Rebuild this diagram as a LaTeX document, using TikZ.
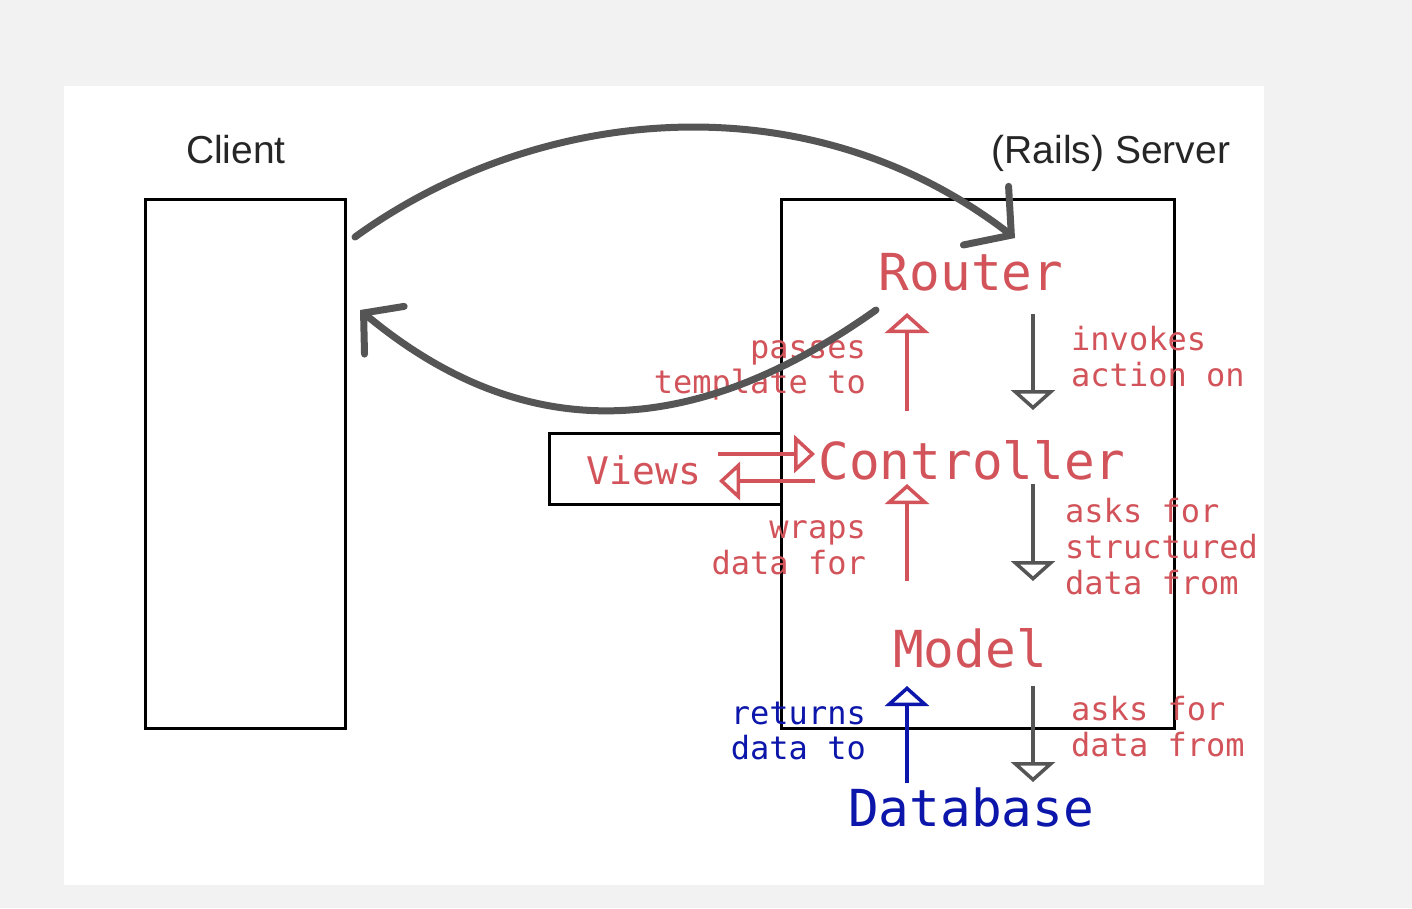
\documentclass[tikz,border=0pt]{standalone}
\usepackage{fontspec}
\setmainfont{Liberation Sans}
\newfontfamily\monof{DejaVu Sans Mono}
\usetikzlibrary{arrows.meta}
\definecolor{rred}{RGB}{210,84,90}
\definecolor{bblue}{RGB}{12,22,170}
\definecolor{ggrey}{RGB}{85,85,85}
\definecolor{bgg}{RGB}{242,242,242}
\tikzset{
  box/.style={draw=black,line width=3pt},
  bigword/.style={font=\monof\fontsize{51}{56}\selectfont,anchor=base,inner sep=0pt},
  lbl/.style={font=\monof\fontsize{32}{36}\selectfont,inner sep=0pt},
  lblr/.style={lbl,anchor=base east},
  lbll/.style={lbl,anchor=base west},
  head/.style={font=\fontsize{39}{44}\selectfont,anchor=base,inner sep=0pt,text=black!85},
  uparr/.style={line width=3.5pt,-{Triangle[open,length=20pt,width=44pt,line width=3.5pt]}},
  dnarr/.style={line width=3.5pt,draw=ggrey,-{Triangle[open,length=20pt,width=44pt,line width=3.5pt]}},
  sidearr/.style={line width=3.5pt,draw=rred,-{Triangle[open,length=21pt,width=38pt,line width=3.5pt]}},
  bigcurve/.style={line width=7pt,draw=ggrey,line cap=round},
}
\begin{document}
\begin{tikzpicture}[x=1pt,y=-1pt]
\fill[bgg] (0,0) rectangle (1412,908);
\useasboundingbox (0,0) rectangle (1412,908);
\fill[white] (64,86) rectangle (1264,885);

% boxes
\draw[box] (145,199) rectangle (345,728);
\draw[box] (781,199) rectangle (1174,728);
\draw[box] (781,433) -- (549,433) -- (549,504) -- (781,504);

% headings
\node[head] (client) at (236,163) {Client};
\node[head] (server) at (1111,163) {(Rails) Server};

% main words
\node[bigword,text=rred] (router) at (971,290) {Router};
\node[bigword,text=rred] (controller) at (972,479) {Controller};
\node[bigword,text=rred] (model) at (970,667) {Model};
\node[bigword,text=bblue] (database) at (971,826) {Database};
\node[font=\monof\fontsize{38}{42}\selectfont,anchor=base,inner sep=0pt,text=rred] (views) at (644,484) {Views};

% labels
\node[lblr,text=rred] (l1a) at (866,358) {passes};
\node[lblr,text=rred] (l1b) at (866,393) {template to};
\node[lblr,text=rred] (l2a) at (866,538) {wraps};
\node[lblr,text=rred] (l2b) at (866,574) {data for};
\node[lblr,text=bblue] (l3a) at (866,724) {returns};
\node[lblr,text=bblue] (l3b) at (866,759) {data to};
\node[lbll,text=rred] (r1a) at (1071,350) {invokes};
\node[lbll,text=rred] (r1b) at (1071,386) {action on};
\node[lbll,text=rred] (r2a) at (1065,522) {asks for};
\node[lbll,text=rred] (r2b) at (1065,558) {structured};
\node[lbll,text=rred] (r2c) at (1065,594) {data from};
\node[lbll,text=rred] (r3a) at (1071,720) {asks for};
\node[lbll,text=rred] (r3b) at (1071,756) {data from};

% arrow end points
\coordinate (u1s) at (907,411); \coordinate (u1e) at (907,313);
\coordinate (u2s) at (907,581); \coordinate (u2e) at (907,484);
\coordinate (u3s) at (907,783); \coordinate (u3e) at (907,686);
\coordinate (d1s) at (1033,314); \coordinate (d1e) at (1033,410);
\coordinate (d2s) at (1033,484); \coordinate (d2e) at (1033,581);
\coordinate (d3s) at (1033,686); \coordinate (d3e) at (1033,782);
\coordinate (v1s) at (718,454); \coordinate (v1e) at (815,454);
\coordinate (v2s) at (815,481); \coordinate (v2e) at (719,481);

\draw[uparr,draw=rred] (u1s) -- (u1e);
\draw[uparr,draw=rred] (u2s) -- (u2e);
\draw[uparr,draw=bblue] (u3s) -- (u3e);
\draw[dnarr] (d1s) -- (d1e);
\draw[dnarr] (d2s) -- (d2e);
\draw[dnarr] (d3s) -- (d3e);
\draw[sidearr] (v1s) -- (v1e);
\draw[sidearr] (v2s) -- (v2e);

% big curves
\coordinate (c1s) at (355,237); \coordinate (c1e) at (1015,238);
\coordinate (c2s) at (876,310); \coordinate (c2e) at (360,310);
\draw[bigcurve,-{Straight Barb[length=32pt,width=74pt,line width=7pt,line cap=round]}]
  (c1s) .. controls (536,106) and (806,77) .. (c1e);
\draw[bigcurve,-{Straight Barb[length=27pt,width=62pt,line width=7pt,line cap=round]}]
  (c2s) .. controls (710,428) and (538,458) .. (c2e);
\end{tikzpicture}
\end{document}
